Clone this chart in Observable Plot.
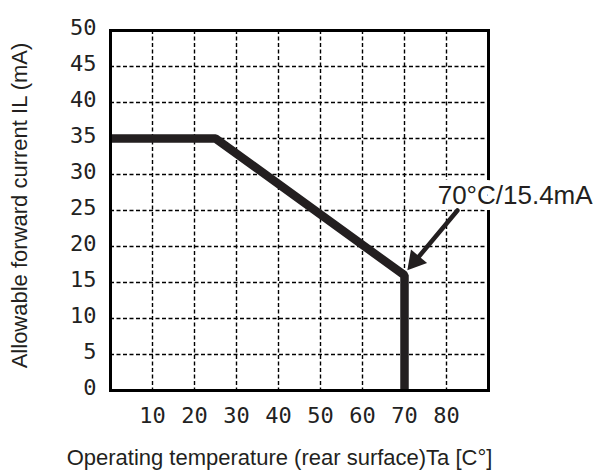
<!DOCTYPE html>
<html><head><meta charset="utf-8">
<script src="https://cdn.jsdelivr.net/npm/d3@7"></script>
<script src="https://cdn.jsdelivr.net/npm/@observablehq/plot@0.6"></script>
<style>html,body{margin:0;padding:0;background:#fff}</style>
</head><body><div id="chart"></div>
<script>
// Derating curve
const temperature = [0, 25, 70, 70];
const current = [35, 35, 16, 0];

const xTicks = [10, 20, 30, 40, 50, 60, 70, 80];
const yTicks = [0, 5, 10, 15, 20, 25, 30, 35, 40, 45, 50];
const xGrid = [10, 20, 30, 40, 50, 60, 70, 80];
const yGrid = [5, 10, 15, 20, 25, 30, 35, 40, 45];

const noteText = ["70°C/15.4mA"];
const noteX = [77.9];
const noteY = [27.1];
const arrowX1 = [82.6];
const arrowY1 = [25.0];
const arrowX2 = [70.7];
const arrowY2 = [16.7];

const xTitle = ["Operating temperature (rear surface)Ta [C°]"];
const yTitle = ["Allowable forward current IL (mA)"];

const curve = temperature.map((t, i) => ({t, c: current[i]}));
const notes = noteText.map((s, i) => ({s, x: noteX[i], y: noteY[i]}));
const arrows = arrowX1.map((d, i) => ({x1: d, y1: arrowY1[i], x2: arrowX2[i], y2: arrowY2[i]}));

const ink = "#231f20";
const tickFont = "DejaVu Sans Mono";
const titleFont = "Liberation Sans, Arial, sans-serif";

const chart = Plot.plot({
  width: 599,
  height: 476,
  marginLeft: 110,
  marginRight: 111,
  marginTop: 30,
  marginBottom: 86,
  x: {domain: [0, 90]},
  y: {domain: [0, 50]},
  style: {background: "#fff", color: ink},
  marks: [
    Plot.gridX(xGrid, {stroke: "#000", strokeOpacity: 1, strokeWidth: 1.4, strokeDasharray: "4,2.5"}),
    Plot.gridY(yGrid, {stroke: "#000", strokeOpacity: 1, strokeWidth: 1.4, strokeDasharray: "4,2.5"}),
    Plot.line(curve, {x: "t", y: "c", stroke: ink, strokeWidth: 8.5, strokeLinejoin: "miter", strokeLinecap: "butt"}),
    Plot.frame({stroke: "#000", strokeWidth: 3}),
    Plot.text(notes, {x: "x", y: "y", text: "s", textAnchor: "start", fontSize: 26, fontFamily: titleFont, fill: ink, stroke: "#fff", strokeWidth: 12}),
    Plot.arrow(arrows, {x1: "x1", y1: "y1", x2: "x2", y2: "y2", stroke: ink, strokeWidth: 4.5, headLength: 0, insetEnd: 12}),
    Plot.dot(arrows, {x: "x2", y: "y2", symbol: "triangle", r: 7.8, fill: ink, stroke: "none", rotate: -140, dx: 7.7, dy: -9.3}),
    Plot.axisX(xTicks, {tickSize: 0, tickPadding: 17, fontSize: 22, fontFamily: tickFont, fill: "#222", label: null}),
    Plot.axisY(yTicks, {tickSize: 0, tickPadding: 14, fontSize: 22, fontFamily: tickFont, fill: "#222", dy: -3, label: null}),
    Plot.text(xTitle, {frameAnchor: "bottom", text: d => d, textAnchor: "middle", lineAnchor: "middle", dx: -20, dy: 67, fontSize: 22, fontFamily: titleFont, fill: ink}),
    Plot.text(yTitle, {frameAnchor: "left", text: d => d, textAnchor: "middle", lineAnchor: "middle", rotate: -90, dx: -91, dy: -5, fontSize: 22, fontFamily: titleFont, fill: ink})
  ]
});
document.getElementById("chart").appendChild(chart);
</script>
</body></html>
